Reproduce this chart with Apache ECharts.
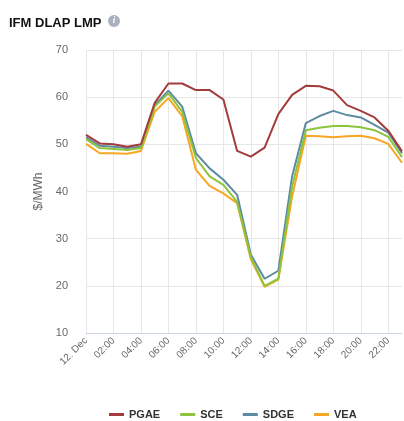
<!DOCTYPE html>
<html>
<head>
<meta charset="utf-8">
<script src="https://cdn.jsdelivr.net/npm/echarts@6/dist/echarts.min.js"></script>
<style>
  html, body { margin: 0; padding: 0; background: #fff; }
  #box { width: 404px; height: 421px; }
</style>
</head>
<body>
<div id="box"></div>
<script>
const hours = ['00:00', '01:00', '02:00', '03:00', '04:00', '05:00', '06:00', '07:00',
  '08:00', '09:00', '10:00', '11:00', '12:00', '13:00', '14:00', '15:00',
  '16:00', '17:00', '18:00', '19:00', '20:00', '21:00', '22:00', '23:00']
const firstLabel = '12. Dec'

const pgae = [52.0, 50.2, 50.0, 49.5, 50.0, 58.8, 62.9, 62.9, 61.5, 61.5, 59.5, 48.6,
  47.4, 49.3, 56.4, 60.5, 62.4, 62.3, 61.4, 58.3, 57.1, 55.7, 52.9, 48.5]
const sce = [51.1, 49.2, 49.0, 48.8, 49.2, 58.0, 60.8, 56.9, 47.1, 43.2, 41.4, 37.8,
  26.1, 20.0, 21.5, 41.0, 53.0, 53.5, 53.9, 53.9, 53.6, 53.0, 51.6, 47.3]
const sdge = [51.5, 49.7, 49.5, 49.2, 49.5, 58.3, 61.4, 58.0, 48.1, 44.9, 42.5, 39.3,
  26.6, 21.5, 23.2, 43.2, 54.5, 56.0, 57.1, 56.2, 55.7, 54.1, 52.5, 48.1]
const vea = [50.1, 48.1, 48.1, 48.0, 48.6, 56.9, 59.8, 56.0, 44.6, 41.2, 39.6, 37.5,
  25.6, 19.8, 21.3, 38.9, 51.8, 51.7, 51.5, 51.7, 51.8, 51.3, 50.1, 46.1]

const names = ['PGAE', 'SCE', 'SDGE', 'VEA']
const colors = ['#a33c3c', '#8cc43e', '#5e8ba2', '#f8a623']
const values = [pgae, sce, sdge, vea]

const chart = echarts.init(document.getElementById('box'))
chart.setOption({
  animation: false,
  color: colors,
  title: {
    text: 'IFM DLAP LMP',
    left: 4,
    top: 12,
    textStyle: { fontFamily: 'Arial, Liberation Sans', fontSize: 13, fontWeight: 'bold', color: '#111' }
  },
  graphic: [{
    type: 'group',
    left: 108,
    top: 15,
    children: [
      { type: 'circle', shape: { cx: 6, cy: 6, r: 6 }, style: { fill: '#a9b2bd' } },
      { type: 'text', x: 6, y: 6, style: { text: 'i', fill: '#fff', font: 'italic bold 9px Arial', align: 'center', verticalAlign: 'middle' } }
    ]
  }],
  grid: { left: 86, right: 2, top: 50, bottom: 88 },
  legend: {
    data: names,
    top: 406,
    left: 104,
    padding: [3, 5],
    itemGap: 20,
    itemWidth: 15,
    itemHeight: 3,
    icon: 'rect',
    textStyle: { fontFamily: 'Arial, Liberation Sans', fontSize: 11, fontWeight: 'bold', color: '#333' }
  },
  xAxis: {
    type: 'category',
    data: hours,
    boundaryGap: false,
    axisLine: { lineStyle: { color: '#ccd6eb' } },
    axisTick: { show: false },
    axisLabel: {
      interval: 1,
      rotate: 45,
      color: '#666',
      fontSize: 10,
      fontFamily: 'Arial, Liberation Sans',
      margin: 6,
      formatter: (v, i) => (i === 0 ? firstLabel : v)
    },
    splitLine: { show: true, interval: 1, lineStyle: { color: '#e6e6e6' } }
  },
  yAxis: {
    type: 'value',
    min: 10,
    max: 70,
    interval: 10,
    name: '$/MWh',
    nameLocation: 'middle',
    nameGap: 38,
    nameTextStyle: { color: '#666', fontSize: 12, fontFamily: 'Arial, Liberation Sans' },
    axisLabel: { color: '#666', fontSize: 11, fontFamily: 'Arial, Liberation Sans', margin: 18 },
    splitLine: { lineStyle: { color: '#e6e6e6' } }
  },
  series: names.map((n, i) => ({
    name: n,
    type: 'line',
    data: values[i],
    showSymbol: false,
    lineStyle: { width: 2 },
    z: 10 - i
  }))
})
</script>
</body>
</html>
